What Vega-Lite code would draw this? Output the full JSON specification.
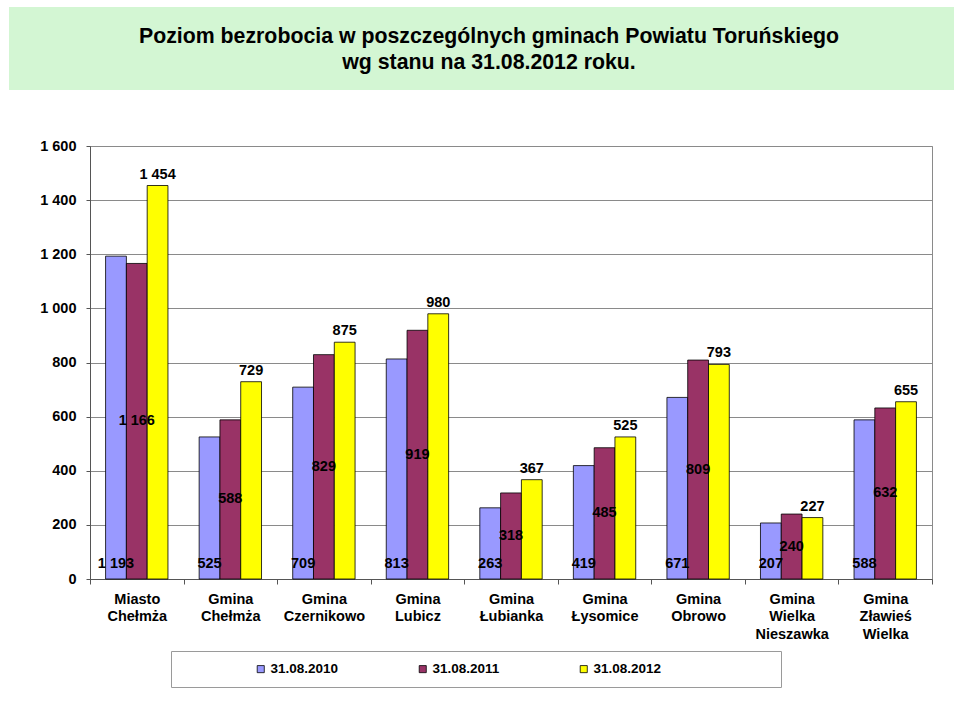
{
  "$schema": "https://vega.github.io/schema/vega-lite/v6.json",
  "padding": {"left": 8, "top": 7, "right": 0, "bottom": 0},
  "background": "white",
  "spacing": 47,
  "config": {
    "font": "Liberation Sans",
    "locale": {"number": {"decimal": ",", "thousands": " ", "grouping": [3], "currency": ["", " zł"]}}
  },
  "vconcat": [
    {
      "width": 865,
      "height": 83,
      "view": {"stroke": null},
      "data": {"values": [{"x0": -81, "x1": 865}]},
      "layer": [
        {
          "mark": {"type": "rect", "color": "#d3f6d3"},
          "encoding": {
            "x": {"field": "x0", "type": "quantitative", "scale": {"domain": [0, 865], "nice": false, "zero": false}, "axis": null},
            "x2": {"field": "x1"}
          }
        },
        {
          "mark": {"type": "text", "fontWeight": "bold", "fontSize": 21.3, "lineHeight": 26, "baseline": "alphabetic", "align": "center", "dx": -33.5, "dy": -6, "color": "black"},
          "encoding": {"text": {"value": ["Poziom bezrobocia w poszczególnych gminach Powiatu Toruńskiego", "wg stanu na 31.08.2012 roku."]}}
        }
      ]
    },
    {
      "width": 842,
      "height": 433,
      "view": {"stroke": "#8a8a8a", "strokeWidth": 1},
      "data": {"values": [
        {"gmina": "Miasto Chełmża", "data": "31.08.2010", "value": 1193},
        {"gmina": "Miasto Chełmża", "data": "31.08.2011", "value": 1166},
        {"gmina": "Miasto Chełmża", "data": "31.08.2012", "value": 1454},
        {"gmina": "Gmina Chełmża", "data": "31.08.2010", "value": 525},
        {"gmina": "Gmina Chełmża", "data": "31.08.2011", "value": 588},
        {"gmina": "Gmina Chełmża", "data": "31.08.2012", "value": 729},
        {"gmina": "Gmina Czernikowo", "data": "31.08.2010", "value": 709},
        {"gmina": "Gmina Czernikowo", "data": "31.08.2011", "value": 829},
        {"gmina": "Gmina Czernikowo", "data": "31.08.2012", "value": 875},
        {"gmina": "Gmina Lubicz", "data": "31.08.2010", "value": 813},
        {"gmina": "Gmina Lubicz", "data": "31.08.2011", "value": 919},
        {"gmina": "Gmina Lubicz", "data": "31.08.2012", "value": 980},
        {"gmina": "Gmina Łubianka", "data": "31.08.2010", "value": 263},
        {"gmina": "Gmina Łubianka", "data": "31.08.2011", "value": 318},
        {"gmina": "Gmina Łubianka", "data": "31.08.2012", "value": 367},
        {"gmina": "Gmina Łysomice", "data": "31.08.2010", "value": 419},
        {"gmina": "Gmina Łysomice", "data": "31.08.2011", "value": 485},
        {"gmina": "Gmina Łysomice", "data": "31.08.2012", "value": 525},
        {"gmina": "Gmina Obrowo", "data": "31.08.2010", "value": 671},
        {"gmina": "Gmina Obrowo", "data": "31.08.2011", "value": 809},
        {"gmina": "Gmina Obrowo", "data": "31.08.2012", "value": 793},
        {"gmina": "Gmina Wielka Nieszawka", "data": "31.08.2010", "value": 207},
        {"gmina": "Gmina Wielka Nieszawka", "data": "31.08.2011", "value": 240},
        {"gmina": "Gmina Wielka Nieszawka", "data": "31.08.2012", "value": 227},
        {"gmina": "Gmina Zławieś Wielka", "data": "31.08.2010", "value": 588},
        {"gmina": "Gmina Zławieś Wielka", "data": "31.08.2011", "value": 632},
        {"gmina": "Gmina Zławieś Wielka", "data": "31.08.2012", "value": 655}
      ]},
      "encoding": {
        "x": {
          "field": "gmina", "type": "nominal", "sort": null,
          "scale": {"paddingInner": 0, "paddingOuter": 0},
          "axis": {
            "title": null, "labelAngle": 0, "grid": false,
            "labelExpr": "split(datum.label, ' ')",
            "labelFontSize": 14.5, "labelFontWeight": "bold", "labelColor": "black",
            "labelLineHeight": 17.5, "labelPadding": 8, "labelBaseline": "top",
            "tickBand": "extent", "tickSize": 5, "tickColor": "#555555",
            "domainColor": "#555555"
          }
        },
        "xOffset": {"field": "data", "type": "nominal", "scale": {"paddingInner": 0, "paddingOuter": 0.75}}
      },
      "layer": [
        {
          "mark": {"type": "bar", "stroke": "black", "strokeWidth": 0.8},
          "encoding": {
            "y": {
              "field": "value", "type": "quantitative",
              "scale": {"domain": [0, 1600], "nice": false},
              "axis": {
                "title": null, "format": ",d", "tickCount": 8,
                "labelFontSize": 14.5, "labelFontWeight": "bold", "labelColor": "black",
                "labelPadding": 10, "tickSize": 4, "tickColor": "#555555",
                "domainColor": "#555555", "gridColor": "#8a8a8a", "minExtent": 81
              }
            },
            "color": {
              "field": "data", "type": "nominal",
              "scale": {"domain": ["31.08.2010", "31.08.2011", "31.08.2012"], "range": ["#9999ff", "#993366", "#ffff00"]},
              "legend": {
                "title": " ", "titleOrient": "right", "titlePadding": 109,
                "orient": "none", "legendX": 81, "legendY": 644,
                "direction": "horizontal", "padding": 11,
                "strokeColor": "#9a9a9a",
                "symbolType": "square", "symbolSize": 50,
                "symbolStrokeColor": "black", "symbolStrokeWidth": 0.8,
                "symbolOffset": 72, "labelOffset": 3, "columnPadding": 5,
                "labelFontSize": 13.5, "labelFontWeight": "bold", "labelColor": "black"
              }
            }
          }
        },
        {
          "transform": [{"filter": "datum.data === '31.08.2010'"}],
          "mark": {"type": "text", "fontWeight": "bold", "fontSize": 14.5, "baseline": "middle", "dy": -15, "color": "black"},
          "encoding": {
            "y": {"datum": 0, "type": "quantitative", "scale": {"domain": [0, 1600], "nice": false}, "axis": null},
            "text": {"field": "value", "type": "quantitative", "format": ",d"}
          }
        },
        {
          "transform": [{"filter": "datum.data === '31.08.2011'"}],
          "mark": {"type": "text", "fontWeight": "bold", "fontSize": 14.5, "baseline": "middle", "color": "black"},
          "encoding": {
            "y": {"field": "value", "type": "quantitative", "scale": {"domain": [0, 3200], "nice": false}, "axis": null},
            "text": {"field": "value", "type": "quantitative", "format": ",d"}
          }
        },
        {
          "transform": [{"filter": "datum.data === '31.08.2012'"}],
          "mark": {"type": "text", "fontWeight": "bold", "fontSize": 14.5, "baseline": "alphabetic", "dy": -7, "color": "black"},
          "encoding": {
            "y": {"field": "value", "type": "quantitative", "scale": {"domain": [0, 1600], "nice": false}, "axis": null},
            "text": {"field": "value", "type": "quantitative", "format": ",d"}
          }
        }
      ],
      "resolve": {"scale": {"y": "independent"}}
    }
  ]
}
